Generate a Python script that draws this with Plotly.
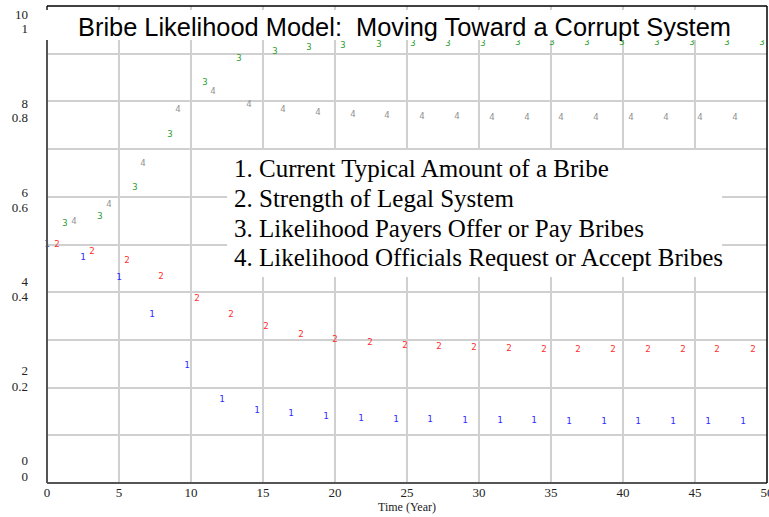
import plotly.graph_objects as go

# Vensim style run: each variable is marked by its number at intervals
title = "Bribe Likelihood Model:\u00a0 Moving Toward a Corrupt System"
names = [
    "Current Typical Amount of a Bribe",
    "Strength of Legal System",
    "Likelihood Payers Offer or Pay Bribes",
    "Likelihood Officials Request or Accept Bribes",
]

# 1. bribe amount (0-10 scale)
t1 = [0.0, 2.5, 5.0, 7.29, 9.72, 12.15, 14.58, 16.94, 19.38, 21.81, 24.24,
      26.6, 29.03, 31.46, 33.82, 36.25, 38.68, 41.04, 43.47, 45.9, 48.33]
amount = [5.0, 4.72, 4.3, 3.52, 2.45, 1.74, 1.51, 1.45, 1.38, 1.34, 1.32,
          1.32, 1.30, 1.30, 1.30, 1.28, 1.28, 1.28, 1.28, 1.28, 1.28]

# 2. legal system (0-1 scale)
t2 = [0.69, 3.13, 5.56, 7.92, 10.42, 12.78, 15.21, 17.64, 20.0, 22.43, 24.86,
      27.22, 29.65, 32.08, 34.51, 36.88, 39.31, 41.74, 44.17, 46.53, 49.03]
legal = [0.499, 0.484, 0.465, 0.432, 0.386, 0.352, 0.327, 0.31, 0.30, 0.294, 0.287,
         0.285, 0.283, 0.281, 0.279, 0.279, 0.279, 0.279, 0.279, 0.279, 0.279]

# 3. payers
t3 = [1.25, 3.68, 6.11, 8.54, 10.97, 13.33, 15.83, 18.19, 20.56, 23.06, 25.42,
      27.85, 30.28, 32.71, 35.07, 37.5, 39.93, 42.36, 44.79, 47.22, 49.65]
payers = [0.543, 0.558, 0.618, 0.730, 0.839, 0.889, 0.904, 0.912, 0.916, 0.919, 0.920,
          0.920, 0.921, 0.922, 0.922, 0.922, 0.922, 0.922, 0.922, 0.922, 0.922]

# 4. officials
t4 = [1.88, 4.31, 6.67, 9.1, 11.53, 14.03, 16.39, 18.82, 21.25, 23.61,
      26.04, 28.47, 30.9, 33.33, 35.69, 38.13, 40.56, 42.99, 45.35, 47.78]
officials = [0.547, 0.583, 0.669, 0.782, 0.820, 0.792, 0.782, 0.776, 0.771, 0.769,
             0.767, 0.767, 0.765, 0.765, 0.765, 0.765, 0.765, 0.765, 0.765, 0.765]

x_ticks = [0, 5, 10, 15, 20, 25, 30, 35, 40, 45, 50]
y_ticks_big = [0, 2, 4, 6, 8, 10]
y_ticks_small = [0, 0.2, 0.4, 0.6, 0.8, 1]

serif = "Liberation Serif, Times New Roman, serif"
mono = "DejaVu Sans Mono, monospace"

series = [
    (t1, amount, "1", "#2b2bff", "y2"),
    (t2, legal, "2", "#ff2b2b", "y"),
    (t3, payers, "3", "#2e9e2e", "y"),
    (t4, officials, "4", "#939393", "y"),
]

fig = go.Figure()
for t, v, lab, col, ax in series:
    fig.add_trace(go.Scatter(
        x=t, y=v, mode="text", text=[lab] * len(t),
        textfont=dict(family=mono, size=9, color=col),
        yaxis=ax, showlegend=False, hoverinfo="skip", cliponaxis=False))

# label-only axes: Vensim spreads the paired labels evenly, not on the grid
for ax in ["y3", "y4"]:
    fig.add_trace(go.Scatter(x=[None], y=[None], yaxis=ax, showlegend=False, hoverinfo="skip"))

grid = "#d0d0d0"
tickfont = dict(family=serif, size=13, color="#222")
label_axis = dict(overlaying="y", side="left", showgrid=False, zeroline=False, ticks="",
                  ticklabelstandoff=18, automargin=False, tickfont=tickfont)
fig.update_layout(
    width=769, height=517,
    margin=dict(l=47, r=2, t=6, b=34),
    paper_bgcolor="white", plot_bgcolor="white",
    xaxis=dict(range=[0, 50], tickvals=x_ticks, showgrid=True, gridcolor=grid, gridwidth=1.5,
               zeroline=False, showline=False, ticks="", automargin=False, tickfont=tickfont,
               ticklabeloverflow="allow",
               title=dict(text="Time (Year)", font=dict(family=serif, size=12, color="#222"), standoff=2)),
    yaxis=dict(range=[0, 1], dtick=0.1, showgrid=True, gridcolor=grid, gridwidth=1.5,
               zeroline=False, showticklabels=False, ticks="", automargin=False),
    yaxis2=dict(range=[0, 10], overlaying="y", side="left", showgrid=False, zeroline=False,
                showticklabels=False, ticks="", automargin=False),
    yaxis3=dict(label_axis, range=[-0.516, 10.179], tickvals=y_ticks_big,
                ticktext=[str(v) for v in y_ticks_big]),
    yaxis4=dict(label_axis, range=[-0.0156, 1.049], tickvals=y_ticks_small,
                ticktext=[f"{v:g}" for v in y_ticks_small]),
)

# frame lines, then the white strip behind the title
line_dark = dict(color="#555", width=2)
line_blk = dict(color="black", width=1.5)
for x0, y0, x1, y1, ln in [(0, 0, 0, 1, line_dark), (0, 0, 1, 0, line_dark),
                           (0, 1, 1, 1, line_blk), (1, 0, 1, 1, line_blk)]:
    fig.add_shape(type="line", xref="paper", yref="paper", x0=x0, y0=y0, x1=x1, y1=y1,
                  line=ln, layer="above")
fig.add_shape(type="rect", xref="paper", yref="paper", x0=-0.01, x1=0.997, y0=0.9287, y1=0.9916,
              fillcolor="white", line=dict(width=0), layer="above")

fig.add_annotation(text=title, xref="paper", yref="paper", x=0.496, y=0.956,
                   xanchor="center", yanchor="middle", showarrow=False,
                   font=dict(family="Liberation Sans, Arial, sans-serif", size=25.4, color="black"))

# legend box with one line per variable
fig.add_shape(type="rect", xref="paper", yref="paper", x0=0.25, x1=0.9375, y0=0.4319, y1=0.6981,
              fillcolor="white", line=dict(width=0), layer="above")
for i, (n, ly) in enumerate(zip(names, [0.6583, 0.5954, 0.5325, 0.4717]), 1):
    fig.add_annotation(text=f"{i}. {n}", xref="paper", yref="paper", x=0.257, y=ly,
                       xanchor="left", yanchor="middle", showarrow=False,
                       font=dict(family=serif, size=25, color="black"))

fig.write_html("out.html", config={"displayModeBar": False},
               post_script="document.body.style.margin='0';")
